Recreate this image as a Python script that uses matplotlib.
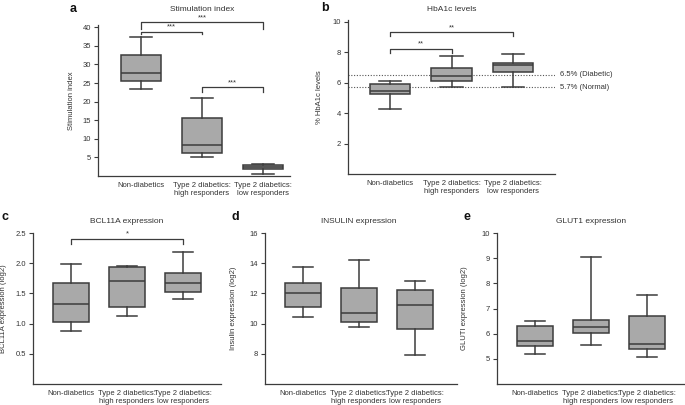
import matplotlib.pyplot as plt

plt.rcParams['font.family'] = ['Liberation Sans', 'DejaVu Sans']

groups = ['Non-diabetics', 'Type 2 diabetics:\nhigh responders', 'Type 2 diabetics:\nlow responders']

# box statistics per panel: whisker low, Q1, median, Q3, whisker high
stim_low = [23.3, 5.2, 0.6]
stim_q1 = [25.5, 6.3, 1.95]
stim_med = [27.7, 8.3, 2.5]
stim_q3 = [32.6, 15.7, 2.85]
stim_high = [37.3, 21.1, 3.2]

hba_low = [4.26, 5.68, 5.68]
hba_q1 = [5.26, 6.07, 6.71]
hba_med = [5.46, 6.42, 7.17]
hba_q3 = [5.9, 6.95, 7.3]
hba_high = [6.07, 7.74, 7.85]

bcl_low = [0.88, 1.12, 1.41]
bcl_q1 = [1.03, 1.27, 1.52]
bcl_med = [1.33, 1.71, 1.68]
bcl_q3 = [1.68, 1.94, 1.84]
bcl_high = [1.99, 1.96, 2.19]

ins_low = [10.42, 9.76, 7.89]
ins_q1 = [11.07, 10.09, 9.67]
ins_med = [12.04, 10.69, 11.2]
ins_q3 = [12.71, 12.38, 12.22]
ins_high = [13.78, 14.2, 12.82]

glut_low = [5.2, 5.56, 5.08]
glut_q1 = [5.52, 6.01, 5.41]
glut_med = [5.71, 6.27, 5.59]
glut_q3 = [6.32, 6.56, 6.72]
glut_high = [6.49, 9.03, 7.53]

# significance brackets: (group a, group b, bar height, leg end, label)
stim_sig = [(1, 2, 38.7, 38.1, '***'), (1, 3, 41.3, 39.6, '***'), (2, 3, 23.8, 22.6, '***')]
hba_sig = [(1, 2, 8.22, 7.93, '**'), (1, 3, 9.3, 9.06, '**')]
bcl_sig = [(1, 3, 2.4, 2.31, '*')]

hba_lines = [6.5, 5.7]
hba_line_labels = ['6.5% (Diabetic)', '5.7% (Normal)']

EDGE = '#3c3c3c'
FILL = '#a9a9a9'
TXT = '#333333'


def draw_panel(ax, low, q1, med, q3, high, title, ylabel, xlim, ylim, yticks, title_y, label_x):
    stats = []
    for i in range(len(groups)):
        stats.append({'whislo': low[i], 'q1': q1[i], 'med': med[i],
                      'q3': q3[i], 'whishi': high[i]})
    ax.bxp(stats, positions=[1, 2, 3], widths=0.65, capwidths=0.36,
           showfliers=False, patch_artist=True,
           boxprops=dict(facecolor=FILL, edgecolor=EDGE, linewidth=1.1),
           medianprops=dict(color=EDGE, linewidth=1.1),
           whiskerprops=dict(color=EDGE, linewidth=1.1),
           capprops=dict(color=EDGE, linewidth=1.1))
    ax.set_xlim(*xlim)
    ax.set_ylim(*ylim)
    ax.set_yticks(yticks)
    ax.set_xticks([1, 2, 3])
    ax.set_xticklabels(groups, fontsize=5.5, color=TXT, linespacing=1.2)
    ax.tick_params(axis='x', length=0, pad=4)
    ax.tick_params(axis='y', length=3, width=0.8, pad=2, labelsize=5.5,
                   colors=EDGE, labelcolor=TXT)
    for s in ['top', 'right']:
        ax.spines[s].set_visible(False)
    for s in ['left', 'bottom']:
        ax.spines[s].set_color(EDGE)
        ax.spines[s].set_linewidth(0.9)
    ax.set_ylabel(ylabel, fontsize=5.5, color=TXT)
    ax.yaxis.set_label_coords(label_x, 0.5)
    ax.text(2, title_y, title, transform=ax.get_xaxis_transform(),
            ha='center', va='center', fontsize=6, color=TXT)


def draw_brackets(ax, sig, star_gap):
    for x1, x2, y, leg, lab in sig:
        ax.plot([x1, x1, x2, x2], [leg, y, y, leg], color=EDGE, lw=0.9,
                clip_on=False)
        ax.text((x1 + x2) / 2, y + star_gap, lab, ha='center', va='center',
                fontsize=5.5, color=TXT, clip_on=False)


fig = plt.figure(figsize=(6.85, 4.05), dpi=100)
W, H = 685.0, 405.0


def add_ax(left, right, top, bottom):
    return fig.add_axes([left / W, 1 - bottom / H, (right - left) / W, (bottom - top) / H])


ax_a = add_ax(98, 290, 25, 176)
ax_b = add_ax(348, 555, 20, 174)
ax_c = add_ax(33, 221, 233, 384)
ax_d = add_ax(265, 457, 233, 384)
ax_e = add_ax(497, 685, 233, 384)

draw_panel(ax_a, stim_low, stim_q1, stim_med, stim_q3, stim_high,
           'Stimulation index', 'Stimulation index', (0.30, 3.44), (0, 40.6),
           [5, 10, 15, 20, 25, 30, 35, 40], 1.105, -0.12)
draw_brackets(ax_a, stim_sig, 1.3)

draw_panel(ax_b, hba_low, hba_q1, hba_med, hba_q3, hba_high,
           'HbA1c levels', '% HbA1c levels', (0.32, 3.68), (0, 10.1),
           [2, 4, 6, 8, 10], 1.065, -0.12)
draw_brackets(ax_b, hba_sig, 0.3)
for yv, lab in zip(hba_lines, hba_line_labels):
    ax_b.axhline(yv, color='#555555', lw=0.8, linestyle=(0, (1, 1.5)), zorder=0)
    ax_b.text(1.025, yv, lab, transform=ax_b.get_yaxis_transform(),
              ha='left', va='center', fontsize=5.5, color=TXT)

draw_panel(ax_c, bcl_low, bcl_q1, bcl_med, bcl_q3, bcl_high,
           'BCL11A expression', 'BCL11A expression (log2)', (0.32, 3.68), (0, 2.5),
           [0.5, 1.0, 1.5, 2.0, 2.5], 1.073, -0.137)
ax_c.set_yticklabels(['0.5', '1.0', '1.5', '2.0', '2.5'])
draw_brackets(ax_c, bcl_sig, 0.08)

draw_panel(ax_d, ins_low, ins_q1, ins_med, ins_q3, ins_high,
           'INSULIN expression', 'Insulin expression (log2)', (0.32, 3.75), (6, 16),
           [8, 10, 12, 14, 16], 1.073, -0.146)

draw_panel(ax_e, glut_low, glut_q1, glut_med, glut_q3, glut_high,
           'GLUT1 expression', 'GLUTI expression (log2)', (0.32, 3.68), (4, 10),
           [5, 6, 7, 8, 9, 10], 1.073, -0.155)

for lab, x, y in [('a', 70, 9), ('b', 321, 8), ('c', 2, 217), ('d', 231, 217), ('e', 463, 217)]:
    fig.text(x / W, 1 - y / H, lab, fontsize=9, fontweight='bold',
             ha='left', va='center', color='#111111')

fig.savefig('out.png', dpi=100)
